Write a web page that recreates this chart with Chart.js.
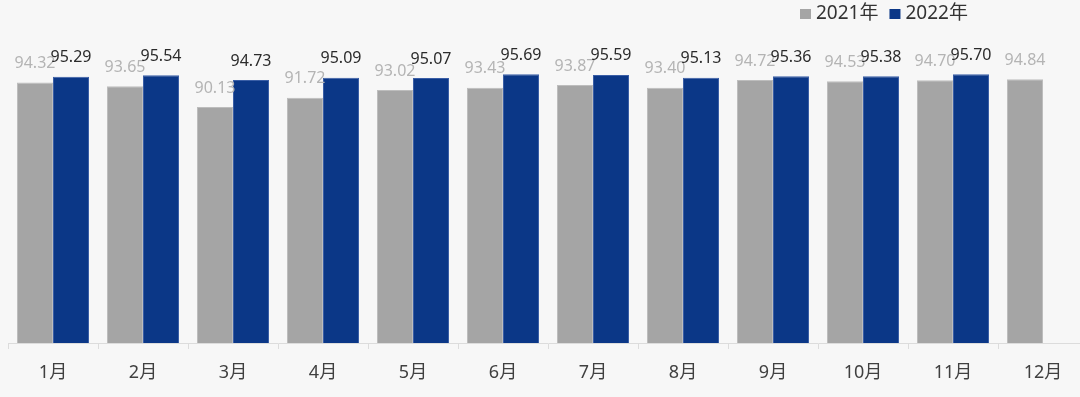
<!DOCTYPE html>
<html>
<head>
<meta charset="utf-8">
<script src="https://cdn.jsdelivr.net/npm/chart.js@4/dist/chart.umd.min.js"></script>
<style>
  html, body { margin: 0; padding: 0; background: #f7f7f7; overflow: hidden; }
  #wrap { position: absolute; left: 0; top: 0; width: 1090px; height: 397px; }
</style>
</head>
<body>
<div id="wrap"><canvas id="chart"></canvas></div>
<script>
const months = ["1月", "2月", "3月", "4月", "5月", "6月", "7月", "8月", "9月", "10月", "11月", "12月"];
const values2021 = [94.32, 93.65, 90.13, 91.72, 93.02, 93.43, 93.87, 93.40, 94.72, 94.53, 94.70, 94.84];
const values2022 = [95.29, 95.54, 94.73, 95.09, 95.07, 95.69, 95.59, 95.13, 95.36, 95.38, 95.70, null];
const seriesNames = ["2021年", "2022年"];

const FONT = "'Noto Sans', 'Noto Sans CJK SC', sans-serif";

// value labels above each bar
const barLabels = {
  id: "barLabels",
  afterDatasetsDraw(chart) {
    const ctx = chart.ctx;
    ctx.save();
    ctx.font = "16px " + FONT;
    ctx.textAlign = "center";
    ctx.textBaseline = "middle";
    chart.data.datasets.forEach((ds, i) => {
      const meta = chart.getDatasetMeta(i);
      ctx.fillStyle = ds.labelColor;
      meta.data.forEach((bar, j) => {
        const v = ds.data[j];
        if (v == null) return;
        ctx.fillText(v.toFixed(2), bar.x, bar.y - 19);
      });
    });
    ctx.restore();
  }
};

// legend drawn at the top right, as in the picture
const topLegend = {
  id: "topLegend",
  afterDraw(chart) {
    const ctx = chart.ctx;
    ctx.save();
    ctx.font = "19px " + FONT;
    ctx.textBaseline = "middle";
    let x = 800;
    const y = 14;
    chart.data.datasets.forEach(ds => {
      ctx.fillStyle = ds.backgroundColor;
      ctx.fillRect(x, y - 5, 11, 10);
      ctx.fillStyle = "#333333";
      ctx.fillText(ds.label, x + 16, y);
      x += 16 + ctx.measureText(ds.label).width + 11;
    });
    ctx.restore();
  }
};

new Chart(document.getElementById("chart"), {
  type: "bar",
  data: {
    labels: months,
    datasets: [
      {
        label: seriesNames[0],
        data: values2021,
        backgroundColor: "#a5a5a5",
        borderColor: "#bdbdbd",
        borderWidth: 1,
        labelColor: "#b4b4b4"
      },
      {
        label: seriesNames[1],
        data: values2022,
        backgroundColor: "#0b3787",
        borderColor: "#3a5ea6",
        borderWidth: 1,
        labelColor: "#2b2b2b"
      }
    ]
  },
  options: {
    responsive: true,
    maintainAspectRatio: false,
    animation: false,
    layout: { padding: { left: 8, right: 2, top: 49, bottom: 0 } },
    datasets: { bar: { categoryPercentage: 0.8, barPercentage: 1.0 } },
    plugins: {
      legend: { display: false },
      tooltip: { enabled: false }
    },
    scales: {
      x: {
        grid: {
          display: true,
          offset: true,
          drawOnChartArea: false,
          drawTicks: true,
          tickLength: 6,
          color: "#dcdcdc"
        },
        border: { color: "#dcdcdc" },
        ticks: {
          color: "#404040",
          font: { family: FONT, size: 18 },
          padding: 13
        },
        afterFit(scale) { scale.height = 54; }
      },
      y: {
        display: false,
        min: 50,
        max: 100
      }
    }
  },
  plugins: [barLabels, topLegend]
});
</script>
</body>
</html>
